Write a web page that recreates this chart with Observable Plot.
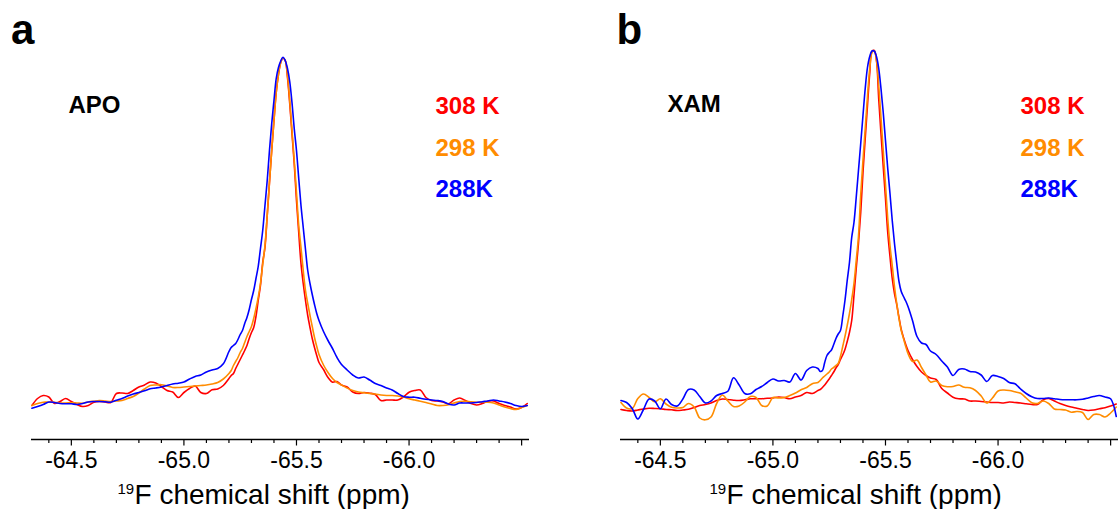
<!DOCTYPE html>
<html>
<head>
<meta charset="utf-8">
<script src="https://cdn.jsdelivr.net/npm/d3@7"></script>
<script src="https://cdn.jsdelivr.net/npm/@observablehq/plot@0.6"></script>
<style>
  html, body { margin: 0; padding: 0; background: #fff; }
  #fig { display: flex; width: 1118px; height: 509px; overflow: hidden; }
</style>
</head>
<body>
<div id="fig"></div>
<script>
// 19F chemical shift grid (ppm)
const ppm = [-64.325,-64.35,-64.375,-64.4,-64.425,-64.45,-64.475,-64.5,-64.525,-64.55,-64.575,-64.6,-64.625,-64.65,-64.675,-64.7,-64.725,-64.75,-64.775,-64.8,-64.825,-64.85,-64.875,-64.9,-64.925,-64.95,-64.975,-65.0,-65.025,-65.05,-65.075,-65.1,-65.125,-65.15,-65.175,-65.2,
-65.21,-65.22,-65.23,-65.24,-65.25,-65.26,-65.27,-65.28,-65.29,-65.3,-65.31,-65.32,-65.33,-65.34,-65.35,-65.36,-65.37,-65.38,-65.39,-65.4,-65.41,-65.42,-65.43,-65.44,-65.45,-65.46,-65.47,-65.48,-65.49,-65.5,-65.51,-65.52,-65.53,-65.54,-65.55,-65.56,-65.57,-65.58,-65.59,-65.6,
-65.62,-65.64,-65.66,-65.68,-65.7,
-65.725,-65.75,-65.775,-65.8,-65.825,-65.85,-65.875,-65.9,-65.925,-65.95,-65.975,-66.0,-66.025,-66.05,-66.075,-66.1,-66.125,-66.15,-66.175,-66.2,-66.225,-66.25,-66.275,-66.3,-66.325,-66.35,-66.375,-66.4,-66.425,-66.45,-66.475,-66.5,-66.525];

// Panel a: APO (intensity, a.u.)
const apo308 = [3.4,4.1,4.4,4.25,3.6,3.8,4.1,3.8,3.5,3.3,3.4,3.73,3.8,3.75,3.7,4.6,4.65,4.6,4.9,5.25,5.45,5.75,5.65,5.3,4.9,4.75,4.2,4.7,5.1,5.35,4.7,4.6,4.97,5.05,5.4,6.1,
6.4,6.6,7.1,7.55,8.0,8.45,8.9,9.4,10.1,10.7,11.2,12.3,13.9,15.4,17.7,19.2,22.4,25.73,28.93,31.9,34.7,36.5,37.7,38.15,37.9,36.2,33.6,30.6,27.6,23.9,20.7,17.6,15.6,13.9,12.4,11.2,10.1,9.2,8.4,7.7,
7.0,6.2,5.73,5.8,5.45,
5.25,4.75,4.6,4.7,4.63,4.5,3.9,3.95,3.95,3.95,4.25,4.73,4.9,4.95,4.2,3.9,3.85,3.75,3.57,3.95,4.15,3.9,3.6,3.45,3.6,3.83,3.85,3.6,3.4,3.25,3.05,3.2,3.6];
const apo298 = [3.4,3.6,3.73,3.73,3.73,3.65,3.65,3.67,3.65,3.63,3.75,3.83,3.9,3.85,3.8,3.85,3.9,4.1,4.3,4.65,5.05,5.4,5.45,5.48,5.35,5.2,5.2,5.25,5.3,5.35,5.4,5.45,5.55,5.7,6.05,6.6,
6.9,7.4,7.8,8.2,8.7,9.1,9.7,10.3,10.8,11.3,12.1,13.1,14.2,15.6,17.5,19.4,22.4,25.7,28.9,31.9,34.7,36.5,37.7,38.15,37.9,36.4,33.9,30.9,27.9,24.7,21.4,19.2,16.9,14.9,13.6,12.4,11.3,10.2,9.3,8.5,
7.45,6.7,6.1,5.7,5.45,
5.15,4.9,4.75,4.67,4.6,4.55,4.45,4.4,4.4,4.35,4.25,4.07,3.95,3.83,3.7,3.55,3.4,3.4,3.47,3.65,3.8,3.83,3.77,3.73,3.73,3.73,3.65,3.45,3.25,3.1,3.0,3.2,3.4];
const apo288 = [3.13,3.3,3.5,3.75,3.7,3.6,3.57,3.57,3.5,3.6,3.75,3.8,3.8,3.77,3.73,3.93,4.1,4.35,4.55,4.7,4.87,5.07,5.15,5.25,5.4,5.55,5.63,5.75,6.05,6.3,6.45,6.75,6.95,7.1,7.57,8.8,
9.2,9.4,9.6,10.0,10.5,10.9,11.6,12.2,13.0,14.0,14.9,16.1,17.3,19.1,20.9,23.4,25.9,28.9,31.6,33.9,36.1,37.2,37.85,38.23,37.9,37.1,35.8,33.7,31.1,28.9,26.1,23.4,21.2,19.0,16.9,15.6,14.5,13.5,12.6,11.9,
10.8,9.9,9.1,8.2,7.5,
6.95,6.45,6.15,6.25,5.95,5.6,5.4,5.15,4.95,4.6,4.3,4.23,4.23,4.12,4.02,3.95,3.9,3.8,3.55,3.45,3.65,3.65,3.65,3.7,3.78,3.85,3.95,3.85,3.75,3.6,3.4,3.3,3.4];

// Panel b: XAM (intensity, a.u.)
const xam308 = [3.0,2.9,2.85,2.95,3.05,3.12,3.1,3.07,3.0,2.97,2.9,2.95,3.02,3.2,3.4,3.5,3.65,3.9,4.05,4.0,3.93,3.9,3.97,4.07,4.07,4.08,4.12,4.15,4.25,4.2,4.07,4.25,4.4,4.7,4.6,4.9,
5.0,5.2,5.45,5.75,6.05,6.4,6.75,7.15,7.5,8.0,8.45,9.0,9.8,10.7,11.9,14.4,17.1,19.6,22.7,26.7,30.1,33.4,36.6,38.8,38.9,37.9,34.05,30.6,27.3,24.1,20.7,18.3,16.1,14.6,13.5,12.2,11.0,10.2,9.5,8.9,
8.0,7.3,6.75,6.4,6.15,
6.0,5.1,4.65,4.23,4.07,4.05,3.85,3.85,3.8,3.75,3.7,3.7,3.65,3.75,3.7,3.65,3.57,3.5,3.5,3.95,4.1,3.85,3.6,3.4,3.25,3.13,3.0,2.9,2.95,3.07,3.18,3.35,3.55];
const xam298 = [3.7,3.15,3.1,4.1,4.55,4.2,3.77,4.07,3.55,3.23,3.15,3.2,3.6,3.25,2.15,1.97,2.25,3.6,4.45,3.85,3.3,3.35,3.75,4.3,4.2,3.4,3.35,4.2,4.15,4.2,4.4,4.65,4.97,5.2,5.58,5.7,
5.9,6.15,6.35,6.55,6.75,7.05,7.2,7.4,7.6,8.3,9.3,10.3,11.4,12.6,14.0,15.6,17.9,20.3,24.5,27.9,31.1,34.3,37.1,38.7,38.9,37.9,35.4,32.2,28.9,25.5,22.1,19.4,17.4,15.3,13.6,12.1,10.9,10.1,9.3,8.6,
7.8,7.95,7.2,6.45,5.75,
5.85,5.4,5.28,5.3,5.45,5.22,5.17,4.9,4.35,3.65,4.15,4.85,4.95,4.9,4.77,4.62,4.15,3.67,3.6,3.85,3.6,3.05,3.0,2.95,2.73,2.8,2.7,2.0,2.5,2.5,2.25,2.65,3.25];
const xam288 = [3.9,3.7,3.1,2.05,3.0,4.05,3.85,3.07,4.05,3.5,3.35,4.05,5.0,4.95,4.3,3.65,3.85,4.4,4.6,4.83,6.17,5.45,4.6,4.57,5.0,5.3,5.7,6.05,5.85,5.9,5.75,6.6,5.95,6.9,7.25,7.1,
6.8,6.9,7.7,8.4,8.7,8.95,9.5,10.1,10.55,10.9,12.3,13.9,15.9,17.7,20.2,21.7,24.2,26.9,29.6,32.4,35.1,37.2,38.3,38.85,38.85,38.3,37.1,35.1,32.7,29.9,27.1,24.6,21.9,19.6,17.6,15.8,14.8,14.3,13.85,13.3,
11.9,10.3,9.65,9.5,8.85,
8.5,7.85,7.25,6.4,7.0,7.05,6.8,6.75,6.45,5.8,6.4,6.3,6.1,5.7,5.57,5.05,4.6,4.28,4.1,4.1,4.15,4.08,4.0,3.97,3.97,3.97,4.02,4.15,4.3,4.4,4.25,4.07,2.3];

const temps = ["308 K", "298 K", "288K"];
const colors = ["#ff0000", "#ff8c00", "#0000ff"];
const majorTicks = [-64.5, -65.0, -65.5, -66.0, -66.5];
const majorLabels = ["-64.5", "-65.0", "-65.5", "-66.0", ""];
const minorTicks = [-64.4, -64.6, -64.7, -64.8, -64.9, -65.1, -65.2, -65.3, -65.4, -65.6, -65.7, -65.8, -65.9, -66.1, -66.2, -66.3, -66.4];
const xDomain = [-64.323, -66.535];
const axisTitle = "F chemical shift (ppm)";
const isotope = "19";

const FONT = "'Liberation Sans', Arial, Helvetica, sans-serif";
const legendDy = [113, 155, 196];

function build(opts) {
  const rows = opts.series.map((vals, k) => vals.map((v, i) => ({ppm: ppm[i], intensity: v, temp: temps[k]}))).flat();
  const textBase = {frameAnchor: "top-left", textAnchor: "start", lineAnchor: "bottom", fontFamily: FONT};
  const legendMarks = temps.map((t, k) => Plot.text([t], {...textBase, text: d => d, dx: opts.legendDx, dy: legendDy[k], fontSize: 24, fontWeight: "bold", fill: colors[k]}));
  const lineMarks = temps.map((t, k) => Plot.line(rows.filter(r => r.temp === t), {x: "ppm", y: "intensity", stroke: colors[k], strokeWidth: 1.6, curve: "catmull-rom"}));
  return Plot.plot({
    width: 559,
    height: 509,
    marginLeft: opts.marginLeft, marginRight: opts.marginRight,
    marginTop: 0,
    marginBottom: 70,
    style: {fontFamily: FONT, background: "white", color: "black", overflow: "visible"},
    x: {domain: xDomain},
    y: {domain: [0, 43.9], axis: null},
    marks: [
      ...lineMarks,
      Plot.ruleY([0], {stroke: "black", strokeWidth: 1.3}),
      Plot.axisX(minorTicks, {tickSize: 4, tickFormat: () => "", label: null, strokeWidth: 1.2}),
      Plot.axisX(majorTicks, {tickSize: 6.5, tickPadding: 6, tickFormat: d => majorLabels[majorTicks.indexOf(d)], label: null, fontSize: 23, strokeWidth: 1.2, fill: "black"}),
      Plot.text([opts.letter], {...textBase, text: d => d, dx: opts.letterDx, dy: 43, fontSize: 42, fontWeight: "bold", fill: "black"}),
      Plot.text([opts.sample], {...textBase, text: d => d, dx: opts.sampleDx, dy: opts.sampleY, fontSize: 24, fontWeight: "bold", fill: "black"}),
      ...legendMarks,
      Plot.text([isotope], {frameAnchor: "bottom-left", textAnchor: "start", lineAnchor: "bottom", text: d => d, dx: opts.supDx, dy: 54, fontSize: 15, fill: "black"}),
      Plot.text([axisTitle], {frameAnchor: "bottom-left", textAnchor: "start", lineAnchor: "bottom", text: d => d, dx: opts.titleDx, dy: 64, fontSize: 28, fill: "black"})
    ]
  });
}

const fig = document.getElementById("fig");
fig.appendChild(build({letter: "a", sample: "APO", series: [apo308, apo298, apo288], marginLeft: 31, marginRight: 30,
  letterDx: -20.5, sampleDx: 37, sampleY: 112, legendDx: 404, supDx: 86, titleDx: 103}));
fig.appendChild(build({letter: "b", sample: "XAM", series: [xam308, xam298, xam288], marginLeft: 61, marginRight: 0,
  letterDx: -4, sampleDx: 47, sampleY: 111, legendDx: 400, supDx: 89, titleDx: 106}));
</script>
</body>
</html>
